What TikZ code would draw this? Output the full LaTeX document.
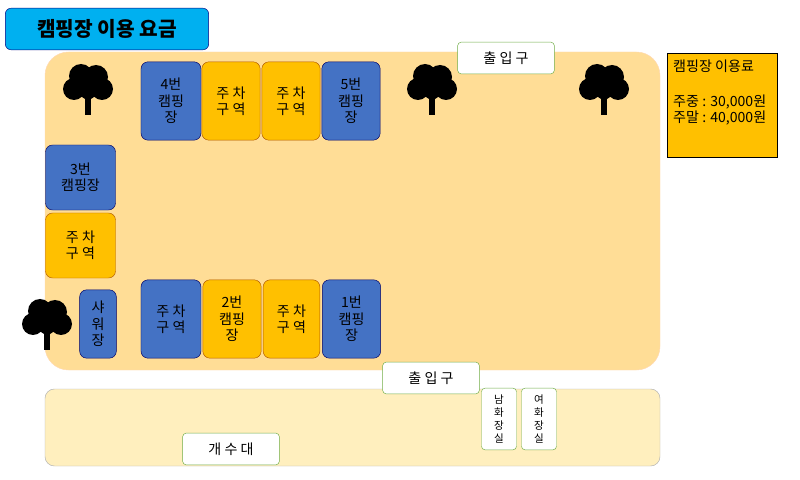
\documentclass[tikz,border=0pt]{standalone}
\usepackage{fontspec}
\setmainfont{Noto Sans CJK KR}
\begin{document}
\begin{tikzpicture}[x=0.03cm,y=-0.03cm]
\tikzstyle{blk}=[draw=blue!40!black, fill={rgb,255:red,68;green,114;blue,196}, rounded corners=6pt, align=center, font=\large, inner sep=1pt]
\tikzstyle{park}=[draw=orange!70!black, fill={rgb,255:red,255;green,192;blue,0}, rounded corners=6pt, align=center, font=\large, inner sep=1pt]
\tikzstyle{gate}=[draw={rgb,255:red,112;green,173;blue,71}, fill=white, rounded corners=3pt, font=\large, minimum width=2.9cm, minimum height=0.95cm]
\tikzstyle{wc}=[draw={rgb,255:red,112;green,173;blue,71}, fill=white, rounded corners=3pt, align=center, font=\small, minimum width=1.05cm, minimum height=1.85cm, inner sep=0pt]

\useasboundingbox (0,0) rectangle (800,480);

% areas
\draw[draw=orange!30, fill={rgb,255:red,255;green,221;blue,150}, rounded corners=20pt] (45,52) rectangle (660,370);
\draw[draw=gray!60, fill={rgb,255:red,255;green,239;blue,190}, rounded corners=8pt] (45,389) rectangle (660,466);

\node[draw=blue!50!black, fill={rgb,255:red,0;green,176;blue,240}, rounded corners=5pt, minimum width=6.1cm, minimum height=1.25cm, font=\LARGE\bfseries] (title) at (107,29) {캠핑장 이용 요금};

\draw[draw=black, fill={rgb,255:red,255;green,192;blue,0}] (667,53) rectangle (777,157);
\node[anchor=north west, align=left, font=\large, inner sep=0pt] (fee) at (673,60) {캠핑장 이용료\\[0.55cm]주중 : 30,000원\\주말 : 40,000원};

% top row
\node[blk, minimum width=1.8cm, minimum height=2.35cm] (c4) at (171,101) {4번\\캠핑\\장};
\node[park, minimum width=1.75cm, minimum height=2.35cm] (p1) at (231,101) {주 차\\구 역};
\node[park, minimum width=1.75cm, minimum height=2.35cm] (p2) at (291,101) {주 차\\구 역};
\node[blk, minimum width=1.75cm, minimum height=2.35cm] (c5) at (351,101) {5번\\캠핑\\장};

% left column
\node[blk, minimum width=2.1cm, minimum height=1.95cm] (c3) at (80.5,177.5) {3번\\캠핑장};
\node[park, minimum width=2.1cm, minimum height=1.95cm] (p3) at (80.5,245.5) {주 차\\구 역};
\node[blk, minimum width=1.1cm, minimum height=2.05cm] (sh) at (98,324) {샤\\워\\장};

% bottom row
\node[blk, minimum width=1.8cm, minimum height=2.35cm] (p4) at (171,319) {주 차\\구 역};
\node[park, minimum width=1.75cm, minimum height=2.35cm] (c2) at (232,319) {2번\\캠핑\\장};
\node[park, minimum width=1.7cm, minimum height=2.35cm] (p5) at (291.5,319) {주 차\\구 역};
\node[blk, minimum width=1.75cm, minimum height=2.35cm] (c1) at (351.5,319) {1번\\캠핑\\장};

% gates and facilities
\node[gate] (in1) at (506,58) {출 입 구};
\node[gate] (in2) at (431,378) {출 입 구};
\node[gate] (wash) at (231,449) {개 수 대};
\node[wc] (wcm) at (499,419) {남\\화\\장\\실};
\node[wc] (wcf) at (539,419) {여\\화\\장\\실};

% trees
\foreach \tx/\ty in {88/95, 432/95, 604/95, 47/330} {
  \fill[black] (\tx-3,\ty) rectangle (\tx+3,\ty+20);
  \fill[black] (\tx,\ty+6) -- (\tx-12,\ty-2) -- (\tx-9,\ty-5) -- cycle;
  \fill[black] (\tx,\ty+6) -- (\tx+12,\ty-2) -- (\tx+9,\ty-5) -- cycle;
  \fill[black] (\tx-14,\ty-6) circle (11);
  \fill[black] (\tx+14,\ty-6) circle (11);
  \fill[black] (\tx-7,\ty-19) circle (12);
  \fill[black] (\tx+8,\ty-18) circle (12);
  \fill[black] (\tx,\ty-9) circle (12);
}
\end{tikzpicture}
\end{document}
